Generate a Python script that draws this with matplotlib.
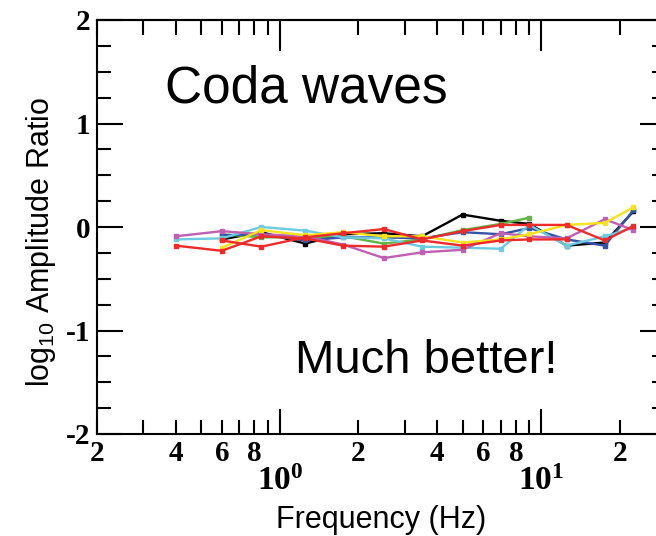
import numpy as np
import matplotlib
matplotlib.use("Agg")
import matplotlib.pyplot as plt
from matplotlib.ticker import FixedLocator, FixedFormatter

plt.rcParams['mathtext.fontset'] = 'custom'
plt.rcParams['mathtext.rm'] = 'Liberation Sans'
plt.rcParams['mathtext.bf'] = 'Liberation Serif:bold'
plt.rcParams['axes.unicode_minus'] = False

nan = np.nan

# Frequencies (Hz) of the coda-wave amplitude measurements
freq = [0.4, 0.6, 0.85, 1.25, 1.75, 2.5, 3.5, 5, 7, 9, 12.5, 17.5, 22.5]

# log10 amplitude ratio per station
black   = [nan, -0.12, -0.05, -0.16, -0.07, -0.06, -0.09, 0.12, 0.06, 0.03, -0.18, -0.15, 0.15]
green   = [nan, -0.07, -0.10, -0.10, -0.09, -0.16, -0.12, -0.03, 0.03, 0.09, nan, nan, nan]
blue    = [nan, -0.08, -0.07, -0.13, -0.10, -0.10, -0.11, -0.05, -0.07, -0.01, -0.12, -0.18, 0.16]
cyan    = [-0.12, -0.11, 0.00, -0.035, -0.10, -0.11, -0.19, -0.20, -0.21, 0.02, -0.18, -0.09, -0.01]
magenta = [-0.09, -0.04, -0.07, -0.09, -0.17, -0.30, -0.245, -0.22, -0.06, -0.09, -0.11, 0.075, -0.03]
yellow  = [nan, -0.20, -0.03, -0.08, -0.05, -0.09, -0.09, -0.15, -0.12, -0.07, 0.02, 0.04, 0.19]
red_a   = [-0.18, -0.23, -0.09, -0.11, -0.18, -0.19, -0.13, -0.18, -0.13, -0.12, -0.12, nan, nan]
red_b   = [nan, -0.13, -0.19, -0.10, -0.06, -0.02, -0.12, -0.04, 0.02, 0.02, 0.02, -0.13, 0.01]

series = [
    (black, '#000000'),
    (green, '#62b545'),
    (blue, '#3553a6'),
    (cyan, '#6ccbe0'),
    (magenta, '#c060b2'),
    (yellow, '#f6e31a'),
    (red_a, '#ee2a2a'),
    (red_b, '#ee2a2a'),
]

# x tick labels
major_ticks = [1, 10]
major_labels = [r'$\mathbf{10^{0}}$', r'$\mathbf{10^{1}}$']
minor_ticks = [0.2, 0.3, 0.4, 0.5, 0.6, 0.7, 0.8, 0.9,
               2, 3, 4, 5, 6, 7, 8, 9, 20, 30]
minor_labels = ['2', '', '4', '', '6', '', '8', '',
                '2', '', '4', '', '6', '', '8', '', '2', '']
y_ticks = [-2, -1, 0, 1, 2]
y_labels = ['-2', '-1', '0', '1', '2']

fig = plt.figure(figsize=(6.56, 5.36), dpi=100)
ax = fig.add_axes([97 / 656, (536 - 434) / 536, (666 - 97) / 656, (434 - 20) / 536])

for vals, col in series:
    ax.plot(freq, vals, color=col, lw=1.7, marker='s', ms=3.5, mec=col, mfc=col)

ax.set_xscale('log')
ax.set_xlim(0.2, 30)
ax.set_ylim(-2, 2)

ax.xaxis.set_major_locator(FixedLocator(major_ticks))
ax.xaxis.set_major_formatter(FixedFormatter(major_labels))
ax.xaxis.set_minor_locator(FixedLocator(minor_ticks))
ax.xaxis.set_minor_formatter(FixedFormatter(minor_labels))
ax.yaxis.set_major_locator(FixedLocator(y_ticks))
ax.yaxis.set_major_formatter(FixedFormatter(y_labels))
ax.yaxis.set_minor_locator(FixedLocator(np.arange(-2, 2.01, 0.25)))

ax.tick_params(axis='both', which='both', direction='in', width=1.5,
               top=False, right=True)
ax.tick_params(axis='x', which='major', length=18, pad=23, labelsize=24)
ax.tick_params(axis='x', which='minor', length=10, pad=4, labelsize=21)
ax.tick_params(axis='y', which='major', length=19, pad=5, labelsize=21)
ax.tick_params(axis='y', which='minor', length=10)
for lab in ax.get_xticklabels(which='both') + ax.get_yticklabels():
    lab.set_fontfamily('Liberation Serif')
    lab.set_fontweight('bold')

# mirrored top axis
top = ax.secondary_xaxis('top')
top.xaxis.set_major_locator(FixedLocator(major_ticks))
top.xaxis.set_major_formatter(FixedFormatter(major_labels))
top.xaxis.set_minor_locator(FixedLocator(minor_ticks))
top.xaxis.set_minor_formatter(FixedFormatter([''] * len(minor_ticks)))
top.tick_params(axis='x', which='both', direction='in', width=1.5)
top.tick_params(axis='x', which='major', length=22, pad=16, labelsize=24)
top.tick_params(axis='x', which='minor', length=11)
top.spines['top'].set_linewidth(1.5)

for sp in ax.spines.values():
    sp.set_linewidth(1.5)

fig.text(381 / 656, 1 - 520 / 536, 'Frequency (Hz)', family='Liberation Sans',
         fontsize=22, ha='center', va='center')
fig.text(0.062, 0.548, r'log$_{\mathrm{10}}$ Amplitude Ratio', rotation=90,
         family='Liberation Sans', fontsize=22, ha='center', va='center')

ax.text(0.12, 0.775, 'Coda waves', transform=ax.transAxes,
        family='Liberation Sans', fontsize=37, ha='left', va='bottom')
ax.text(0.348, 0.123, 'Much better!', transform=ax.transAxes,
        family='Liberation Sans', fontsize=34, ha='left', va='bottom')

fig.savefig('out.png', dpi=100)
